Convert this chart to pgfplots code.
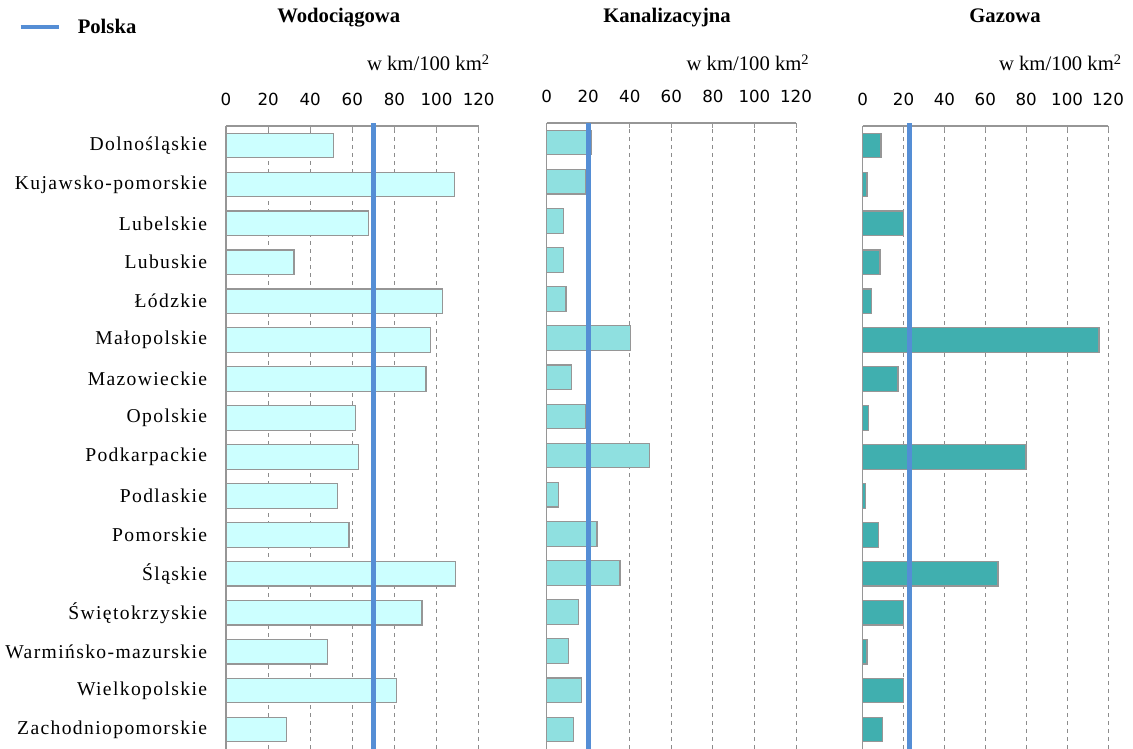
\documentclass[border=0pt]{standalone}
\usepackage{fontspec}
\setmainfont{Liberation Serif}
\newfontfamily\labfont[LetterSpace=7]{Liberation Serif}
\newfontfamily\tickfont{DejaVu Sans}
\usepackage{pgfplots}
\pgfplotsset{compat=1.18}
\definecolor{polska}{RGB}{85,142,213}
\definecolor{edge}{RGB}{150,150,150}
\definecolor{fillA}{RGB}{204,255,255}
\definecolor{fillB}{RGB}{143,224,224}
\definecolor{fillC}{RGB}{64,175,175}
\definecolor{gridc}{RGB}{140,140,140}
\pgfplotsset{
  panel/.style={
    scale only axis,
    xmin=0, xmax=120, ymin=-0.5, ymax=15.5,
    xtick={0,20,...,120}, ytick={0,...,15},
    axis x line*=top, axis y line*=left,
    axis line style={draw=edge, line width=0.8pt, -},
    tick align=inside, major tick length=4pt,
    xtick style={draw=edge, line width=0.6pt},
    ytick style={draw=none},
    xmajorgrids,
    grid style={dashed, draw=gridc, line width=0.6pt},
    xticklabel style={font=\tickfont\fontsize{12.5}{14}\selectfont, inner sep=0pt, yshift=15pt},
    yticklabel style={font=\labfont\fontsize{14.7}{17}\selectfont, inner sep=0pt, xshift=-14pt},
    /pgf/number format/assume math mode=true,
    clip=false,
    bar width=0.63,
  },
  bars/.style={xbar, draw=edge, line width=0.9pt, forget plot},
  pl/.style={draw=polska, line width=3.6pt},
}
\begin{document}
\begin{tikzpicture}
\useasboundingbox (0pt,0pt) rectangle (849.75pt,561.75pt);
% Wodociagowa
\begin{axis}[panel, at={(169.5pt,467.25pt)}, anchor=north west,
  width=189.5pt, height=467.25pt,
  yticklabels={Zachodniopomorskie, Wielkopolskie, Warmińsko-mazurskie, Świętokrzyskie, Śląskie, Pomorskie, Podlaskie, Podkarpackie, Opolskie, Mazowieckie, Małopolskie, Łódzkie, Lubuskie, Lubelskie, Kujawsko-pomorskie, Dolnośląskie},
  legend style={at={(-0.823,1.159)}, anchor=west, draw=none, fill=none, inner sep=0pt,
    font=\bfseries\fontsize{15.5}{18}\selectfont, legend cell align=left},
  legend image code/.code={\draw[#1] (0pt,0pt) -- (29pt,0pt); \path (39pt,0pt);},
]
\addplot[bars, fill=fillA] coordinates {
(51.1,15) (108.4,14) (67.6,13) (32.3,12) (103.0,11) (97.3,10) (95.0,9) (61.4,8)
(62.8,7) (52.9,6) (58.4,5) (109.1,4) (93.1,3) (48.1,2) (81.0,1) (28.6,0)};
\addplot[pl] coordinates {(70,-0.5) (70,15.58)};
\addlegendentry{Polska}
\end{axis}
% Kanalizacyjna
\begin{axis}[panel, at={(410pt,469.5pt)}, anchor=north west,
  width=187pt, height=469.5pt, yticklabels={}]
\addplot[bars, fill=fillB] coordinates {
(21.7,15) (18.8,14) (8.2,13) (8.2,12) (9.3,11) (40.2,10) (11.9,9) (18.6,8)
(49.4,7) (5.6,6) (24.2,5) (35.3,4) (15.5,3) (10.6,2) (16.8,1) (13.1,0)};
\addplot[pl] coordinates {(20,-0.5) (20,15.5)};
\end{axis}
% Gazowa
\begin{axis}[panel, at={(647pt,467.25pt)}, anchor=north west,
  width=184pt, height=467.25pt, yticklabels={}]
\addplot[bars, fill=fillC] coordinates {
(9.0,15) (2.1,14) (19.9,13) (8.5,12) (4.5,11) (115.6,10) (17.3,9) (2.8,8)
(79.9,7) (1.5,6) (7.8,5) (66.2,4) (19.9,3) (2.1,2) (19.9,1) (9.6,0)};
\addplot[pl] coordinates {(23,-0.5) (23,15.58)};
\end{axis}
% titles
\node[anchor=base, font=\bfseries\fontsize{15.5}{18}\selectfont] at (254.1pt,544.5pt) {Wodociągowa};
\node[anchor=base, font=\bfseries\fontsize{15.5}{18}\selectfont] at (500.25pt,544.5pt) {Kanalizacyjna};
\node[anchor=base, font=\bfseries\fontsize{15.5}{18}\selectfont] at (753.75pt,544.5pt) {Gazowa};
\node[anchor=base east, inner sep=0pt, font=\fontsize{15.5}{18}\selectfont] at (367.5pt,508.5pt) {w km/100 km\textsuperscript{2}};
\node[anchor=base east, inner sep=0pt, font=\fontsize{15.5}{18}\selectfont] at (607.2pt,508.5pt) {w km/100 km\textsuperscript{2}};
\node[anchor=base east, inner sep=0pt, font=\fontsize{15.5}{18}\selectfont] at (841.5pt,508.5pt) {w km/100 km\textsuperscript{2}};
\end{tikzpicture}
\end{document}
